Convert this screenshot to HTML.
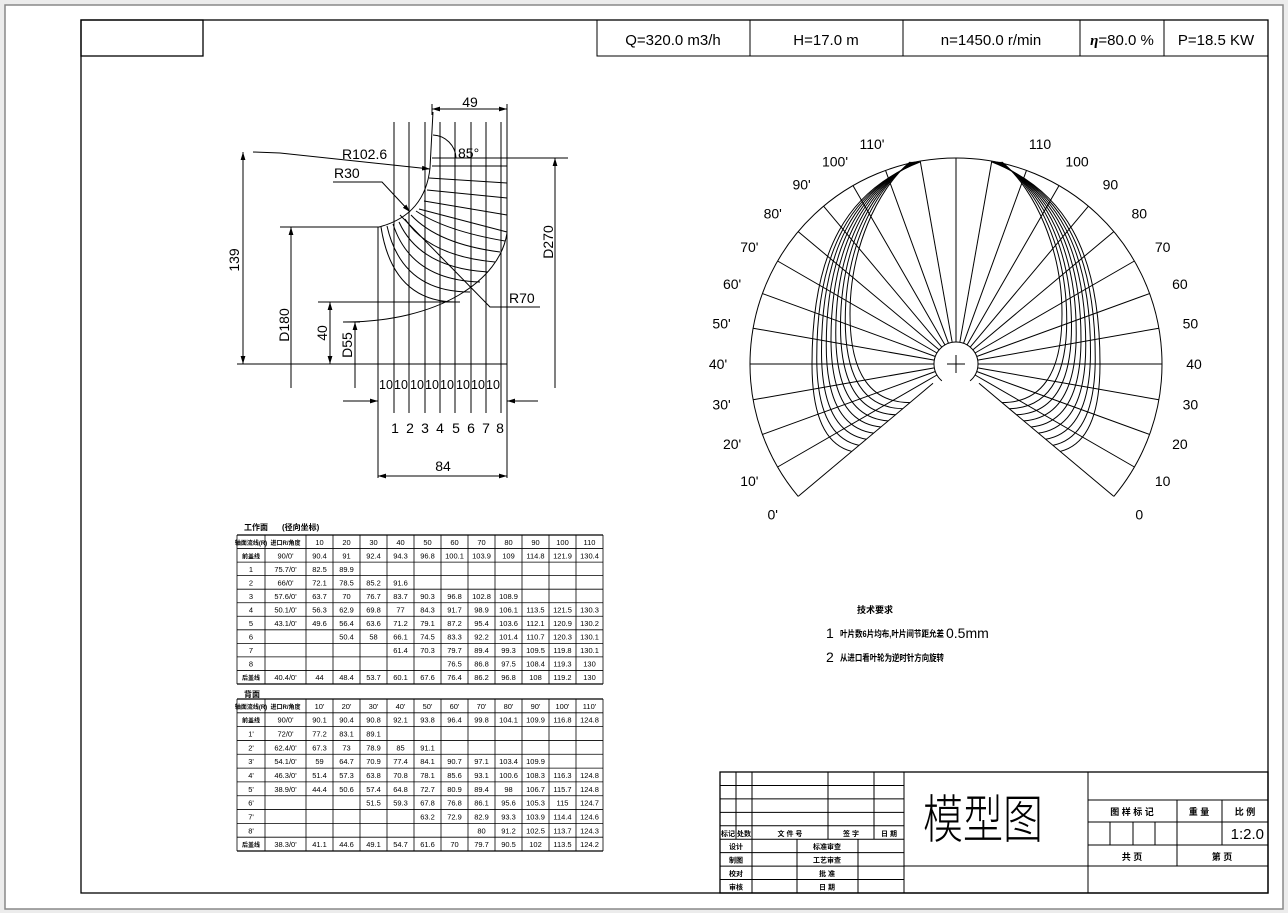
<!DOCTYPE html>
<html><head><meta charset="utf-8"><style>
html,body{margin:0;padding:0;background:#ececec;width:1288px;height:913px;overflow:hidden}
svg{position:absolute;left:0;top:0}
text{font-family:"Liberation Sans","Noto Sans CJK SC",sans-serif;fill:#000}
.cj{font-family:"Liberation Sans","Noto Sans CJK SC",sans-serif;font-weight:bold}
</style></head><body>
<svg id="s" width="1288" height="913" viewBox="0 0 1288 913" xmlns="http://www.w3.org/2000/svg">
<defs>
<marker id="ar" viewBox="0 0 10 10" refX="10" refY="5" markerWidth="8" markerHeight="8" orient="auto-start-reverse" markerUnits="userSpaceOnUse"><path d="M0,2 L10,5 L0,8 z" fill="#000"/></marker>
</defs>
<rect x="5" y="5" width="1278" height="904" fill="#fff" stroke="#888" stroke-width="1.5"/>
<g stroke="#000" fill="none" stroke-width="1">
<rect x="81" y="20" width="1187" height="873" stroke-width="1.3"/>
<rect x="81" y="20" width="122" height="36" stroke-width="1.3"/>
<rect x="597" y="20" width="671" height="36"/>
<line x1="750" y1="20" x2="750" y2="56"/><line x1="903" y1="20" x2="903" y2="56"/>
<line x1="1080" y1="20" x2="1080" y2="56"/><line x1="1164" y1="20" x2="1164" y2="56"/>
</g>
<g font-size="15">
<text x="673" y="45" text-anchor="middle">Q=320.0 m3/h</text>
<text x="826" y="45" text-anchor="middle">H=17.0 m</text>
<text x="991" y="45" text-anchor="middle">n=1450.0 r/min</text>
<text x="1122" y="45" text-anchor="middle"><tspan font-weight="bold" font-style="italic" font-family="Liberation Serif">η</tspan>=80.0 %</text>
<text x="1216" y="45" text-anchor="middle">P=18.5 KW</text>
</g>
<g id="left" stroke="#000" fill="none" stroke-width="1"></g>
<g id="polar" stroke="#000" fill="none" stroke-width="1"></g>
<g id="tbl"></g>
<g id="tb" stroke="#000" fill="none" stroke-width="1"></g>
<g font-size="12.5">
<text x="386" y="389" text-anchor="middle">10</text><text x="401" y="389" text-anchor="middle">10</text><text x="417" y="389" text-anchor="middle">10</text><text x="432" y="389" text-anchor="middle">10</text><text x="447" y="389" text-anchor="middle">10</text><text x="463" y="389" text-anchor="middle">10</text><text x="478" y="389" text-anchor="middle">10</text><text x="493" y="389" text-anchor="middle">10</text>
</g>
<g font-size="14">
<text x="395" y="433" text-anchor="middle">1</text><text x="410" y="433" text-anchor="middle">2</text><text x="425" y="433" text-anchor="middle">3</text><text x="440" y="433" text-anchor="middle">4</text><text x="456" y="433" text-anchor="middle">5</text><text x="471" y="433" text-anchor="middle">6</text><text x="486" y="433" text-anchor="middle">7</text><text x="500" y="433" text-anchor="middle">8</text>
<text x="443" y="471" text-anchor="middle">84</text>
<text x="470" y="107" text-anchor="middle">49</text>
<text x="458" y="158">85°</text>
<text x="342" y="159">R102.6</text>
<text x="334" y="178">R30</text>
<text x="509" y="303">R70</text>
<text transform="translate(239,260) rotate(-90)" text-anchor="middle">139</text>
<text transform="translate(289,325) rotate(-90)" text-anchor="middle">D180</text>
<text transform="translate(327,333) rotate(-90)" text-anchor="middle">40</text>
<text transform="translate(352,345) rotate(-90)" text-anchor="middle">D55</text>
<text transform="translate(553,242) rotate(-90)" text-anchor="middle">D270</text>
</g>
<g font-size="14" id="plab"></g>
<g>
<text x="857" y="613" class="cj" font-size="9">技术要求</text>
<text x="826" y="638" font-size="14">1</text><text x="840" y="637" class="cj" font-size="9" textLength="104" lengthAdjust="spacingAndGlyphs">叶片数6片均布,叶片间节距允差</text><text x="946" y="638" font-size="14">0.5mm</text>
<text x="826" y="662" font-size="14">2</text><text x="840" y="661" class="cj" font-size="9" textLength="104" lengthAdjust="spacingAndGlyphs">从进口看叶轮为逆时针方向旋转</text>
<text x="244" y="530" class="cj" font-size="8">工作面</text><text x="282" y="530" class="cj" font-size="8">(径向坐标)</text>
<text x="244" y="697" class="cj" font-size="8">背面</text>
<text transform="translate(983,838) scale(1,1.3)" font-size="40" font-family="'Noto Sans CJK SC',sans-serif" font-weight="200" text-anchor="middle">模型图</text>
</g>
</svg>
<script>
var NS="http://www.w3.org/2000/svg";
function el(p,t,a,txt){var e=document.createElementNS(NS,t);for(var k in a)e.setAttribute(k,a[k]);if(txt!==undefined)e.textContent=txt;document.getElementById(p).appendChild(e);return e;}
function L(p,x1,y1,x2,y2,ex){var a={x1:x1,y1:y1,x2:x2,y2:y2};if(ex)for(var k in ex)a[k]=ex[k];return el(p,'line',a);}
function P(p,d,ex){var a={d:d};if(ex)for(var k in ex)a[k]=ex[k];return el(p,'path',a);}
/* LEFT DRAWING */
var xs=[394,409,425,440,455,471,486,501];
xs.forEach(function(x){L('left',x,122,x,413);});
L('left',378,227,378,478);L('left',507,104,507,478);
L('left',432,104,432,115);
L('left',237,364,507,364);
L('left',432,158,568,158);
L('left',280,227,379,227);
L('left',318,302,460,302);
L('left',343,322,360,322);
L('left',432,109,507,109,{'marker-start':'url(#ar)','marker-end':'url(#ar)'});
L('left',378,476,507,476,{'marker-start':'url(#ar)','marker-end':'url(#ar)'});
L('left',343,401,378,401,{'marker-end':'url(#ar)'});L('left',538,401,507,401,{'marker-end':'url(#ar)'});
L('left',243,364,243,152,{'marker-start':'url(#ar)','marker-end':'url(#ar)'});
L('left',291,388,291,227,{'marker-end':'url(#ar)'});
L('left',330,364,330,302,{'marker-start':'url(#ar)','marker-end':'url(#ar)'});
L('left',355,388,355,322,{'marker-end':'url(#ar)'});
L('left',555,388,555,158,{'marker-end':'url(#ar)'});
P('left','M433,112 L430,168 Q425,215 379,227');
P('left','M507,233 C500,280 440,322 343,322');
P('left','M433,135 A24,24 0 0 1 456,158');
P('left','M253,152 L280,153 L430,169',{'marker-end':'url(#ar)'});
P('left','M333,182 L382,182 L410,212',{'marker-end':'url(#ar)'});
P('left','M400,215 L490,307 L540,307');
[[432,166,507,166],[429,178,507,183],[427,190,507,198],[424,201,507,215],[419,209,507,232]].forEach(function(a){L('left',a[0],a[1],a[2],a[3]);});
var st=[[381,227],[387,226],[393,224],[399,222],[405,219],[411,215],[416,211]];
var en=[[460,302],[470,292],[480,282],[488,272],[495,262],[500,252],[505,241]];
for(var i=0;i<st.length;i++){var s=st[i],e=en[i];P('left','M'+s[0]+','+s[1]+' Q'+(s[0]+12+i*3)+','+(e[1]+2-i*2)+' '+e[0]+','+e[1]);}
/* POLAR */
var cx=956,cy=364,R=206,r0=22,D=Math.PI/180;
P('polar','M'+(cx+R*Math.cos(-40*D))+','+(cy+R*Math.sin(40*D))+' A'+R+','+R+' 0 1 0 '+(cx-R*Math.cos(40*D))+','+(cy+R*Math.sin(40*D)));
for(var a=-40;a<=220;a+=10){var ri=r0;if(a==-40||a==220)ri=30;L('polar',cx+ri*Math.cos(a*D),cy-ri*Math.sin(a*D),cx+R*Math.cos(a*D),cy-R*Math.sin(a*D));}
P('polar','M'+(cx+r0*Math.cos(-50*D))+','+(cy+r0*Math.sin(50*D))+' A'+r0+','+r0+' 0 1 0 '+(cx-r0*Math.cos(50*D))+','+(cy+r0*Math.sin(50*D)));
L('polar',cx-9,cy,cx+9,cy);L('polar',cx,cy-9,cx,cy+9);
for(var k=0;k<9;k++){var t=k/8;var w=144-38*t,re=136-76*t;
 [-1,1].forEach(function(sg){var x0=cx+sg*(36+t*10);var y0=162;
 var mx=cx+sg*w, my=364-t*50;
 var ex=cx+sg*re*0.766, ey=cy+re*0.643;
 P('polar','M'+x0+','+y0+' C'+(cx+sg*(w*0.75))+','+(190)+' '+mx+','+(250)+' '+mx+','+my+' Q'+mx+','+(ey-10+t*10)+' '+ex+','+ey);});}
var labs=['0','10','20','30','40','50','60','70','80','90','100','110'];
for(var i=0;i<12;i++){var a=-40+i*10;var rl=R+28;var x=cx+rl*Math.cos(a*D),y=cy-rl*Math.sin(a*D)+5;
 el('plab','text',{x:x+4,y:y,'text-anchor':'middle'},labs[i]);
 var a2=180-a;el('plab','text',{x:cx+rl*Math.cos(a2*D)-4,y:cy-rl*Math.sin(a2*D)+5,'text-anchor':'middle'},labs[i]+"'");}
/* TABLES */
var colx=[237,265,306];for(var i=1;i<=11;i++)colx.push(306+i*27.0);
function table(top,bot,rows){var n=rows.length,h=(bot-top)/n;
 for(var r=0;r<=n;r++)L('tbl',237,top+r*h,colx[13],top+r*h,{stroke:'#000','stroke-width':r==0||r==n?1.2:0.8});
 colx.forEach(function(x,j){L('tbl',x,top,x,bot,{stroke:'#000','stroke-width':0.8});});
 rows.forEach(function(row,r){for(var j=0;j<13;j++){var v=row[j];if(!v)continue;var cxm=(colx[j]+colx[j+1])/2;
  var cj=/[\u4e00-\u9fff]/.test(v);el('tbl','text',{x:cxm,y:top+r*h+h/2+3,'text-anchor':'middle','font-size':cj?6:7.5,'class':cj?'cj':'','font-weight':cj?'bold':'normal'},v);}});}
function R_(a){return a.split('|');}
table(535,684,[
R_("轴面流线(R)|进口R/角度|10|20|30|40|50|60|70|80|90|100|110"),
R_("前盖线|90/0'|90.4|91|92.4|94.3|96.8|100.1|103.9|109|114.8|121.9|130.4"),
R_("1|75.7/0'|82.5|89.9||||||||||"),
R_("2|66/0'|72.1|78.5|85.2|91.6||||||||"),
R_("3|57.6/0'|63.7|70|76.7|83.7|90.3|96.8|102.8|108.9||||"),
R_("4|50.1/0'|56.3|62.9|69.8|77|84.3|91.7|98.9|106.1|113.5|121.5|130.3"),
R_("5|43.1/0'|49.6|56.4|63.6|71.2|79.1|87.2|95.4|103.6|112.1|120.9|130.2"),
R_("6|||50.4|58|66.1|74.5|83.3|92.2|101.4|110.7|120.3|130.1"),
R_("7|||||61.4|70.3|79.7|89.4|99.3|109.5|119.8|130.1"),
R_("8|||||||76.5|86.8|97.5|108.4|119.3|130"),
R_("后盖线|40.4/0'|44|48.4|53.7|60.1|67.6|76.4|86.2|96.8|108|119.2|130")]);
table(699,851,[
R_("轴面流线(R)|进口R/角度|10'|20'|30'|40'|50'|60'|70'|80'|90'|100'|110'"),
R_("前盖线|90/0'|90.1|90.4|90.8|92.1|93.8|96.4|99.8|104.1|109.9|116.8|124.8"),
R_("1'|72/0'|77.2|83.1|89.1||||||||"),
R_("2'|62.4/0'|67.3|73|78.9|85|91.1||||||"),
R_("3'|54.1/0'|59|64.7|70.9|77.4|84.1|90.7|97.1|103.4|109.9||"),
R_("4'|46.3/0'|51.4|57.3|63.8|70.8|78.1|85.6|93.1|100.6|108.3|116.3|124.8"),
R_("5'|38.9/0'|44.4|50.6|57.4|64.8|72.7|80.9|89.4|98|106.7|115.7|124.8"),
R_("6'||||51.5|59.3|67.8|76.8|86.1|95.6|105.3|115|124.7"),
R_("7'||||||63.2|72.9|82.9|93.3|103.9|114.4|124.6"),
R_("8'||||||||80|91.2|102.5|113.7|124.3"),
R_("后盖线|38.3/0'|41.1|44.6|49.1|54.7|61.6|70|79.7|90.5|102|113.5|124.2")]);
/* TITLE BLOCK */
var ry=[];for(var i=0;i<=9;i++)ry.push(772+i*13.44);
el('tb','rect',{x:720,y:772,width:548,height:121,'stroke-width':1.3});
for(var i=1;i<9;i++)L('tb',720,ry[i],904,ry[i]);
[736,752].forEach(function(x){L('tb',x,772,x,ry[5]);});
L('tb',752,ry[5],752,893);
[828,874].forEach(function(x){L('tb',x,772,x,ry[5]);});
[797,858].forEach(function(x){L('tb',x,ry[5],x,893);});
L('tb',904,772,904,893);L('tb',1088,772,1088,893);
L('tb',904,866,1268,866);
[800,822,845].forEach(function(y){L('tb',1088,y,1268,y);});
L('tb',1177,800,1177,866);L('tb',1222,800,1222,845);
[1110,1133,1155].forEach(function(x){L('tb',x,822,x,845);});
function T(x,y,s,fs){el('tb','text',{x:x,y:y,'text-anchor':'middle','font-size':fs||7,'class':'cj',stroke:'none'},s);}
var yy=function(i){return ry[i]+10;};
T(728,yy(4),'标记');T(744,yy(4),'处数');T(790,yy(4),'文 件 号');T(851,yy(4),'签  字');T(889,yy(4),'日  期');
T(736,yy(5),'设计');T(827,yy(5),'标准审查');
T(736,yy(6),'制图');T(827,yy(6),'工艺审查');
T(736,yy(7),'校对');T(827,yy(7),'批  准');
T(736,yy(8),'审核');T(827,yy(8),'日  期');
T(1132,815,'图 样 标 记',9);T(1199,815,'重  量',9);T(1245,815,'比  例',9);
T(1132,860,'共       页',9);T(1222,860,'第       页',9);
el('tb','text',{x:1264,y:839,'text-anchor':'end','font-size':15,stroke:'none'},'1:2.0');
</script>
</body></html>
